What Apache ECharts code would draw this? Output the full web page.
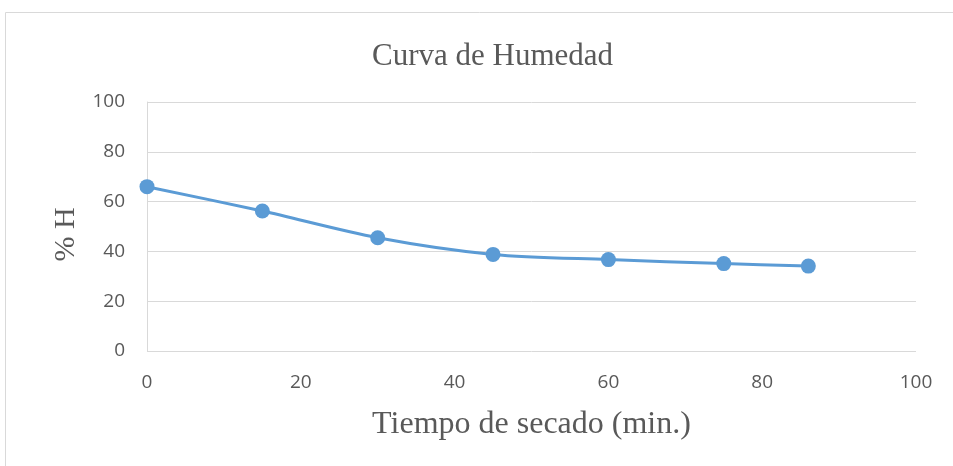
<!DOCTYPE html>
<html><head><meta charset="utf-8">
<script src="https://cdn.jsdelivr.net/npm/echarts@6/dist/echarts.min.js"></script>
<style>html,body{margin:0;padding:0;background:#fff}#c{width:953px;height:466px}</style>
</head><body><div id="c"></div>
<script>
const tiempo = [0, 15, 30, 45, 60, 75, 86];
const humedad = [66.0, 56.2, 45.5, 38.8, 36.7, 35.1, 34.1];
const titleText = 'Curva de Humedad';
const xName = 'Tiempo de secado (min.)';
const yName = '% H';

const chart = echarts.init(document.getElementById('c'));
chart.setOption({
  animation: false,
  graphic: [{type:'rect', shape:{x:5.5,y:12.5,width:960,height:470}, style:{fill:'none', stroke:'#d9d9d9', lineWidth:1}, silent:true}],
  title: {text: titleText, left: 367, top: 36, textStyle:{fontFamily:'Liberation Serif', fontSize:31, fontWeight:'normal', color:'#595959'}},
  grid: {left:147, right:37, top:102, bottom:115},
  xAxis: {type:'value', min:0, max:100, interval:20,
    name: xName, nameLocation:'middle', nameGap:58,
    nameTextStyle:{fontFamily:'Liberation Serif', fontSize:32, color:'#595959'},
    axisLine:{show:false}, axisTick:{show:false}, splitLine:{show:false},
    axisLabel:{fontFamily:'Open Sans', fontSize:19, color:'#595959', margin:22}},
  yAxis: {type:'value', min:0, max:100, interval:20,
    name: yName, nameLocation:'middle', nameGap:55, nameRotate:90,
    nameTextStyle:{fontFamily:'Liberation Serif', fontSize:30, color:'#595959', padding:[0,16,0,0]},
    axisLine:{show:true, lineStyle:{color:'#d9d9d9', width:1}}, axisTick:{show:false},
    splitLine:{lineStyle:{color:'#d9d9d9', width:1}},
    axisLabel:{fontFamily:'Open Sans', fontSize:19, color:'#595959', margin:22}},
  series: [{type:'line', data: tiempo.map((t,i)=>[t, humedad[i]]), smooth:0.3,
    symbol:'circle', symbolSize:15, lineStyle:{color:'#5b9bd5', width:3},
    itemStyle:{color:'#5b9bd5'}}]
});
</script></body></html>
